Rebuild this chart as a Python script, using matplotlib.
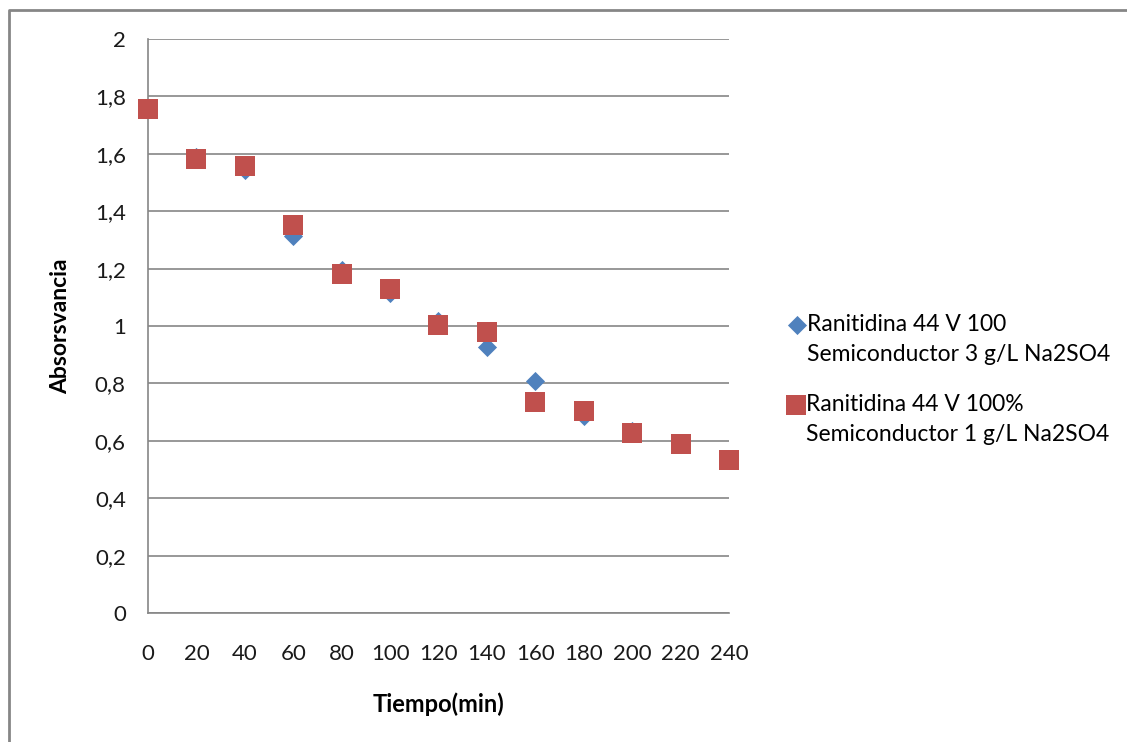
import matplotlib.pyplot as plt
from matplotlib.lines import Line2D

# tiempo de tratamiento (min)
tiempo = [0, 20, 40, 60, 80, 100, 120, 140, 160, 180, 200, 220, 240]

# absorbancia, 3 g/L Na2SO4
abs_3g = [1.756, 1.588, 1.545, 1.313, 1.195, 1.115, 1.017, 0.927, 0.808, 0.686, 0.635, 0.589, 0.533]
# absorbancia, 1 g/L Na2SO4
abs_1g = [1.756, 1.582, 1.557, 1.352, 1.181, 1.129, 1.003, 0.979, 0.735, 0.704, 0.627, 0.589, 0.533]

etiqueta_3g = ["Ranitidina 44 V 100", "Semiconductor 3 g/L Na2SO4"]
etiqueta_1g = ["Ranitidina 44 V 100%", "Semiconductor 1 g/L Na2SO4"]

valores_y = [0, 0.2, 0.4, 0.6, 0.8, 1, 1.2, 1.4, 1.6, 1.8, 2]
textos_y = ['0', '0,2', '0,4', '0,6', '0,8', '1', '1,2', '1,4', '1,6', '1,8', '2']

plt.rcParams['font.family'] = ['Lato', 'DejaVu Sans']

W, H = 1127, 742
fig = plt.figure(figsize=(W / 100, H / 100), dpi=100)
ax = fig.add_axes([148 / W, 1 - 613 / H, (729 - 148) / W, (613 - 39) / H])

gris = '#868686'

# marco exterior del grafico
fig.add_artist(Line2D([9 / W, 9 / W, 1.0], [0.0, 1 - 10 / H, 1 - 10 / H],
                      transform=fig.transFigure, color=gris, lw=2))

azul = ax.scatter(tiempo, abs_3g, marker='D', s=95, color='#4F81BD', zorder=3,
                  linewidths=0, clip_on=False)
rojo = ax.scatter(tiempo, abs_1g, marker='s', s=200, color='#C0504D', zorder=4,
                  linewidths=0, clip_on=False)

ax.set_xlim(0, 240)
ax.set_ylim(0, 2)
ax.set_xticks(range(0, 241, 20))
ax.set_yticks(valores_y)
ax.set_yticklabels(textos_y)
ax.tick_params(axis='both', length=0, labelsize=16, colors='#1a1a1a')
ax.tick_params(axis='x', pad=22)
ax.tick_params(axis='y', pad=16)

ax.grid(axis='y', color=gris, lw=1.2)
ax.set_axisbelow(True)
for s in ['top', 'right']:
    ax.spines[s].set_visible(False)
for s in ['left', 'bottom']:
    ax.spines[s].set_color(gris)
    ax.spines[s].set_linewidth(1.2)

ax.set_xlabel("Tiempo(min)", fontsize=17, fontweight='bold', labelpad=21)
ax.set_ylabel("Absorsvancia", fontsize=16.5, fontweight='bold', labelpad=17)

# leyenda: marcador alineado con la primera linea de cada serie
vacio = Line2D([], [], linestyle='none', marker='none')
opciones = dict(frameon=False, fontsize=16.5, handletextpad=0.05,
                handlelength=0.8, labelspacing=0.4, borderpad=0,
                borderaxespad=0, markerscale=1.0, loc='upper left',
                bbox_transform=fig.transFigure)
ley1 = ax.legend([azul, vacio], etiqueta_3g,
                 bbox_to_anchor=(788 / W, 1 - 314 / H), **opciones)
ax.add_artist(ley1)
ax.legend([rojo, vacio], etiqueta_1g,
          bbox_to_anchor=(787 / W, 1 - 394 / H), **opciones)

fig.savefig('out.png', dpi=100, facecolor='white')
